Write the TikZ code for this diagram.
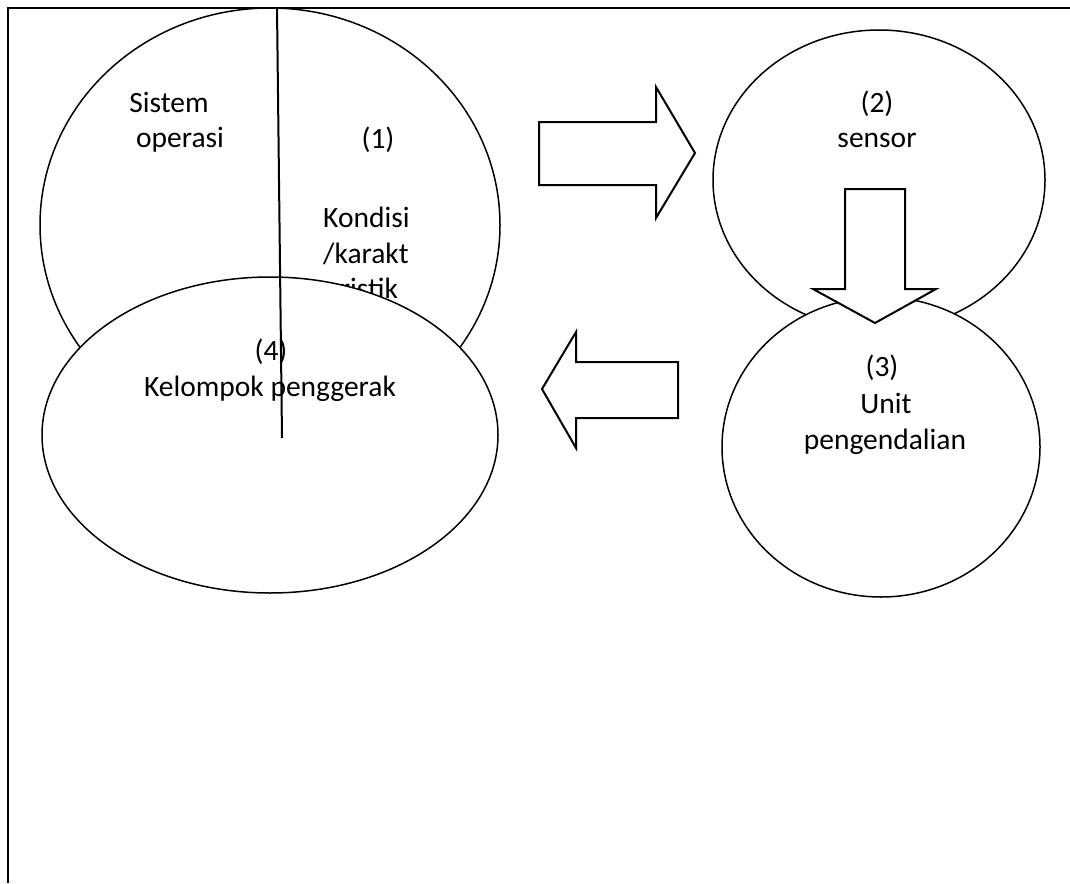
\documentclass[tikz,border=0pt]{standalone}
\usepackage{fontspec}
\setmainfont{Carlito}
\usetikzlibrary{shapes.geometric}

\begin{document}
\begin{tikzpicture}[x=1pt, y=-1pt, font=\fontsize{29.5}{36}\selectfont]
	\tikzstyle{oval} = [draw=black, ellipse, line width=1.5pt, fill=white, inner sep=0pt]
	\tikzstyle{txt} = [anchor=base, inner sep=0pt]
	\tikzstyle{txtl} = [anchor=base west, inner sep=0pt]
	\tikzstyle{block} = [draw=black, line width=2pt, fill=white, line join=miter]
	\tikzstyle{rule} = [line width=2.2pt]
	
	\useasboundingbox (0,0) rectangle (1070,883);
	\draw[rule] (8,883) -- (8,8) -- (1070,8);
	
	% left: system with its condition
	\node[oval, minimum width=460, minimum height=434] at (270,225) (q1) {};
	\node[txt]	at (169,112)	(t1)	{Sistem};
	\node[txt]	at (180,147)	(t2)	{operasi};
	\node[txt]	at (378,148)	(t3)	{(1)};
	\node[txtl]	at (323,227)	(t4)	{Kondisi};
	\node[txtl]	at (323,263)	(t5)	{/karakt};
	\node[txtl]	at (325,298)	(t6)	{eristik};
	
	\node[oval, minimum width=456, minimum height=316] at (270,435) (q4) {};
	\node[txt]	at (271,360)	(t7)	{(4)};
	\node[txt]	at (270,396)	(t8)	{Kelompok penggerak};
	
	\coordinate (c1) at (277,8);
	\coordinate (c2) at (282,438);
	\draw[line width=2pt] (c1) -- (c2);
	
	% right: sensor and control unit
	\node[oval, minimum width=332, minimum height=300] at (879,180) (q2) {};
	\node[txt]	at (877,112)	(t9)	{(2)};
	\node[txt]	at (877,147)	(t10)	{sensor};
	
	\node[oval, minimum width=318, minimum height=300] at (881,447) (q3) {};
	\node[txt]	at (882,376)	(t11)	{(3)};
	\node[txt]	at (886,413)	(t12)	{Unit};
	\node[txt]	at (885,449)	(t13)	{pengendalian};
	
	% block arrows
	\draw[block] (539,122) -- (656,122) -- (656,87) -- (695,153) -- (656,218) -- (656,185) -- (539,185) -- cycle;
	\draw[block] (845,189) -- (905,189) -- (905,289) -- (936,289) -- (875,323) -- (813,289) -- (845,289) -- cycle;
	\draw[block] (678,362) -- (576,362) -- (576,332) -- (542,389) -- (576,448) -- (576,418) -- (678,418) -- cycle;
	
\end{tikzpicture}
\end{document}
